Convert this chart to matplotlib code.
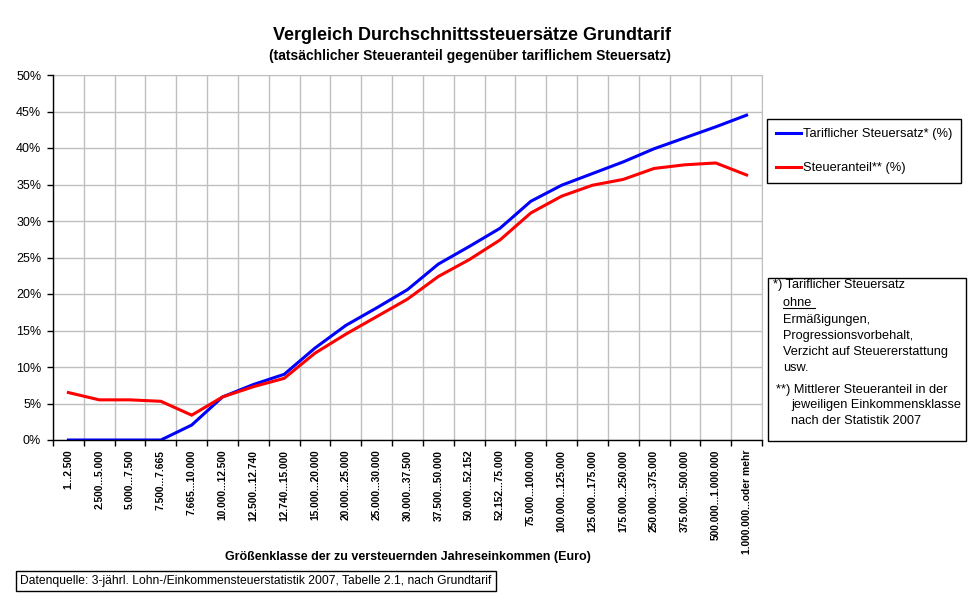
import numpy as np
import matplotlib
matplotlib.use("Agg")
import matplotlib.pyplot as plt
from matplotlib.ticker import FixedLocator, FuncFormatter
from matplotlib.lines import Line2D

matplotlib.rcParams['font.family'] = ['Liberation Sans', 'DejaVu Sans']

# data (values in percent)
klassen = ["1...2.500", "2.500...5.000", "5.000...7.500", "7.500...7.665",
           "7.665...10.000", "10.000...12.500", "12.500...12.740", "12.740...15.000",
           "15.000...20.000", "20.000...25.000", "25.000...30.000", "30.000...37.500",
           "37.500...50.000", "50.000...52.152", "52.152...75.000", "75.000...100.000",
           "100.000...125.000", "125.000...175.000", "175.000...250.000",
           "250.000...375.000", "375.000...500.000", "500.000...1.000.000",
           "1.000.000...oder mehr"]
tariflich = [0.0, 0.0, 0.0, 0.0, 2.05, 5.9, 7.6, 9.0, 12.6, 15.7, 18.1, 20.6,
             24.1, 26.5, 29.0, 32.7, 34.9, 36.5, 38.1, 39.9, 41.4, 42.9, 44.5]
anteil = [6.5, 5.5, 5.5, 5.3, 3.4, 5.9, 7.3, 8.45, 11.9, 14.5, 16.9, 19.3,
          22.4, 24.7, 27.4, 31.1, 33.4, 34.9, 35.7, 37.2, 37.7, 37.95, 36.3]

W, H = 969, 603
fig = plt.figure(figsize=(W / 100, H / 100), dpi=100)

def fx(px):
    return px / W

def fy(py):
    return 1 - py / H

ax = fig.add_axes([fx(53), fy(440), fx(762) - fx(53), fy(75) - fy(440)])

x = np.arange(len(klassen))
l1, = ax.plot(x, tariflich, color='#0000ff', linewidth=2.2, solid_joinstyle='miter')
l2, = ax.plot(x, anteil, color='#ff0000', linewidth=2.2, solid_joinstyle='miter')

ax.set_xlim(-0.5, len(klassen) - 0.5)
ax.set_ylim(0, 50)

# x: labels at centers, ticks/grid at category boundaries
ax.xaxis.set_major_locator(FixedLocator(x))
ax.set_xticklabels(klassen, rotation=90, fontsize=7.4, fontweight='bold')
ax.xaxis.set_minor_locator(FixedLocator(np.arange(-0.5, len(klassen), 1)))
ax.tick_params(axis='x', which='major', length=0, pad=7)
ax.tick_params(axis='x', which='minor', length=4, width=1, color='black', direction='out')

ax.yaxis.set_major_locator(FixedLocator(np.arange(0, 51, 5)))
ax.yaxis.set_major_formatter(FuncFormatter(lambda v, p: "%d%%" % v))
ax.tick_params(axis='y', which='major', length=4, width=1, labelsize=9, pad=4.5, direction='out')

ax.grid(axis='x', which='minor', color='#c0c0c0', linewidth=1)
ax.grid(axis='y', which='major', color='#c0c0c0', linewidth=1)
ax.set_axisbelow(True)

for s in ['top', 'right']:
    ax.spines[s].set_color('#c0c0c0')
for s in ['left', 'bottom']:
    ax.spines[s].set_color('black')
    ax.spines[s].set_linewidth(1)
ax.spines['left'].set_zorder(3)
ax.spines['bottom'].set_zorder(3)

# titles
fig.text(fx(472), fy(36), "Vergleich Durchschnittssteuersätze Grundtarif",
         ha='center', va='center', fontsize=13, fontweight='bold')
fig.text(fx(470), fy(56), "(tatsächlicher Steueranteil gegenüber tariflichem Steuersatz)",
         ha='center', va='center', fontsize=10, fontweight='bold')

fig.text(fx(408), fy(557), "Größenklasse der zu versteuernden Jahreseinkommen (Euro)",
         ha='center', va='center', fontsize=9, fontweight='bold')

fig.text(fx(20), fy(581), "Datenquelle: 3-jährl. Lohn-/Einkommensteuerstatistik 2007, Tabelle 2.1, nach Grundtarif",
         ha='left', va='center', fontsize=8.7,
         bbox=dict(boxstyle='square,pad=0.35', facecolor='white', edgecolor='black', linewidth=1))

# legend
leg = fig.legend([l1, l2], ["Tariflicher Steuersatz* (%)", "Steueranteil** (%)"],
                 loc='upper left', bbox_to_anchor=(fx(767), fy(119)),
                 bbox_transform=fig.transFigure, fontsize=9.3, frameon=True,
                 fancybox=False, edgecolor='black', framealpha=1, borderpad=0.7,
                 labelspacing=1.7, handlelength=1.9, handletextpad=0.15, borderaxespad=0)
leg.get_frame().set_linewidth(1)

# annotation box
box = plt.Rectangle((fx(768), fy(441)), fx(966) - fx(768), fy(278) - fy(441),
                    transform=fig.transFigure, facecolor='white', edgecolor='black',
                    linewidth=1)
fig.patches.append(box)

note_lines = [
    (773, 285, "*) Tariflicher Steuersatz"),
    (783, 303, "ohne "),
    (783, 320, "Ermäßigungen,"),
    (783, 336.5, "Progressionsvorbehalt,"),
    (783, 352, "Verzicht auf Steuererstattung"),
    (783, 368, "usw."),
    (776, 390, "**) Mittlerer Steueranteil in der"),
    (791, 405, "jeweiligen Einkommensklasse"),
    (791, 421.5, "nach der Statistik 2007"),
]
note_texts = []
for px, py, s in note_lines:
    t = fig.text(fx(px), fy(py), s, ha='left', va='center', fontsize=9.2)
    note_texts.append(t)

# underline "ohne"
fig.canvas.draw()
bb = note_texts[1].get_window_extent()
fig.add_artist(Line2D([bb.x0 / W, bb.x1 / W], [(bb.y0 + 1) / H, (bb.y0 + 1) / H],
                      transform=fig.transFigure, color='black', linewidth=0.8))

plt.savefig('out.png', dpi=100)
